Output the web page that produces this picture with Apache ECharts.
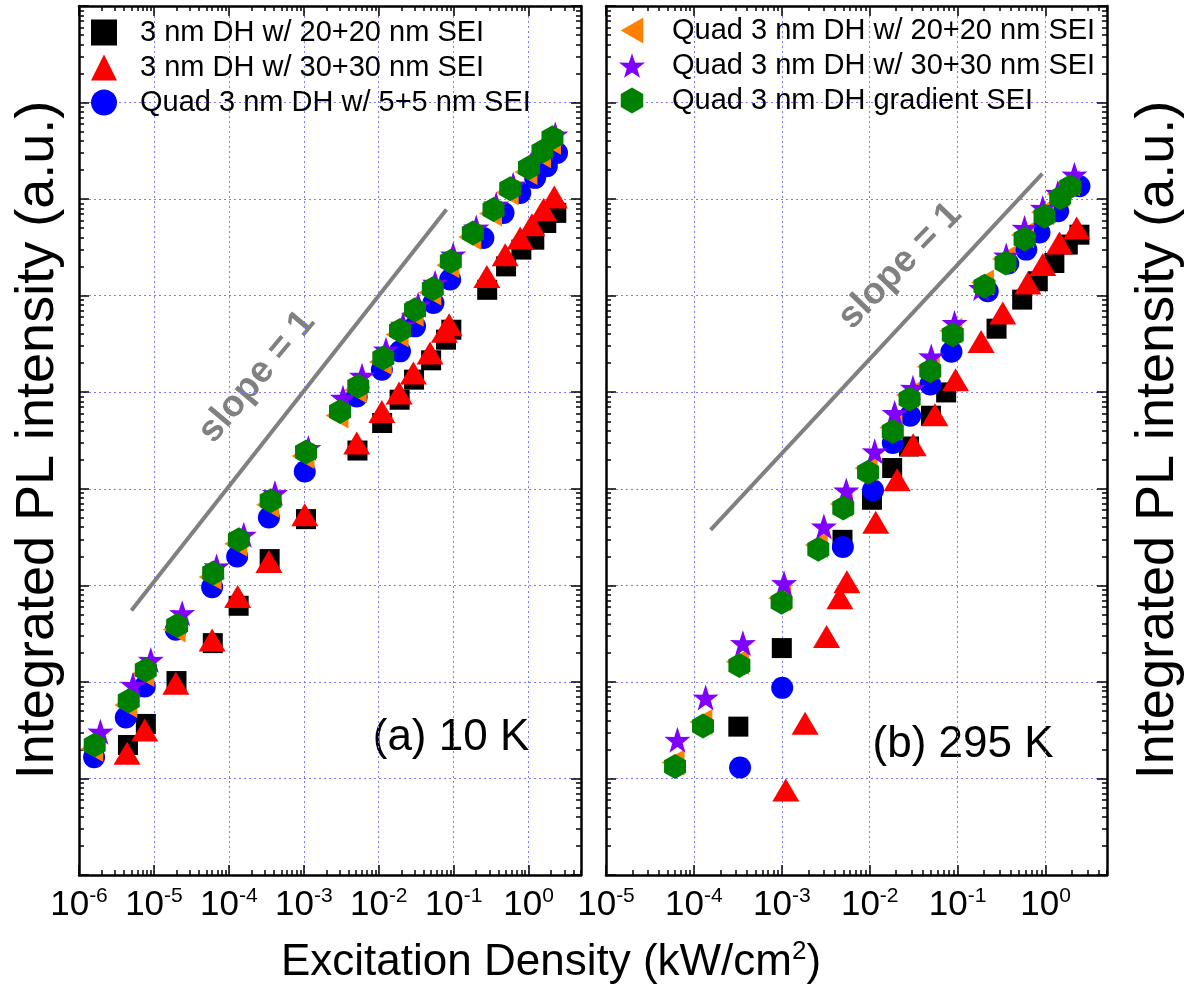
<!DOCTYPE html>
<html><head><meta charset="utf-8">
<script src="https://cdn.jsdelivr.net/npm/echarts@6/dist/echarts.min.js"></script>
<style>html,body{margin:0;padding:0;background:#fff}#c{width:1188px;height:990px}</style>
</head><body><div id="c"></div>
<script>
// ---------------- DATA ----------------
const seriesNames = [
  '3 nm DH w/ 20+20 nm SEI',
  '3 nm DH w/ 30+30 nm SEI',
  'Quad 3 nm DH w/ 5+5 nm SEI',
  'Quad 3 nm DH w/ 20+20 nm SEI',
  'Quad 3 nm DH w/ 30+30 nm SEI',
  'Quad 3 nm DH gradient SEI'
];
// x tick labels (decades)
const aTickValues = [1e-6, 1e-5, 1e-4, 1e-3, 1e-2, 1e-1, 1];
const bTickValues = [1e-5, 1e-4, 1e-3, 1e-2, 1e-1, 1];
const yTickValues = [1, 1e1, 1e2, 1e3, 1e4, 1e5, 1e6, 1e7, 1e8, 1e9];

// Panel (a) 10 K
const a_s1_x = [4.5e-6, 7.8e-6, 2.0e-5, 6.1e-5, 1.35e-4, 3.5e-4, 1.07e-3, 5.2e-3, 1.11e-2, 1.9e-2, 2.96e-2, 5.0e-2, 7.9e-2, 9.3e-2, 0.28, 0.50, 0.80, 1.19, 1.72, 2.34];
const a_s1_y = [22.2, 36.7, 102, 252, 614, 1870, 4850, 24900, 48000, 83600, 1.35e5, 2.14e5, 3.5e5, 4.44e5, 1.15e6, 2.01e6, 3.0e6, 3.8e6, 5.66e6, 7.2e6];
const a_s2_x = [4.38e-6, 7.55e-6, 1.96e-5, 5.98e-5, 1.31e-4, 3.42e-4, 1.03e-3, 5.08e-3, 1.10e-2, 1.87e-2, 2.9e-2, 4.84e-2, 7.52e-2, 8.69e-2, 0.277, 0.487, 0.772, 1.107, 1.58, 2.20];
const a_s2_y = [18.2, 31.8, 97, 272, 765, 1765, 5380, 29800, 63200, 98100, 1.58e5, 2.55e5, 4.27e5, 5.0e5, 1.58e6, 2.66e6, 3.96e6, 5.44e6, 7.8e6, 1.05e7];
const a_s3_x = [1.59e-6, 4.21e-6, 7.55e-6, 1.96e-5, 5.98e-5, 1.29e-4, 3.42e-4, 1.03e-3, 5.08e-3, 1.10e-2, 1.92e-2, 3.05e-2, 5.37e-2, 8.97e-2, 0.249, 0.462, 0.772, 1.22, 1.75, 2.39];
const a_s3_y = [16.6, 42.7, 89.4, 346, 958, 1990, 5040, 15100, 90400, 1.71e5, 2.65e5, 4.81e5, 8.4e5, 1.47e6, 3.96e6, 7.2e6, 1.16e7, 1.66e7, 2.19e7, 3.01e7];
const a_s4_x = [1.48e-6, 4.21e-6, 7.10e-6, 1.86e-5, 5.62e-5, 1.24e-4, 3.29e-4, 9.75e-4, 2.77e-3, 4.86e-3, 1.05e-2, 1.76e-2, 2.79e-2, 4.80e-2, 8.36e-2, 0.164, 0.310, 0.518, 0.920, 1.40, 1.90];
const a_s4_y = [20.2, 57.8, 121, 348, 1217, 2690, 6830, 21800, 57500, 1.05e5, 2.06e5, 3.97e5, 6.51e5, 1.08e6, 2.06e6, 4.06e6, 7.08e6, 1.17e7, 1.91e7, 2.84e7, 3.92e7];
const a_s5_x = [1.93e-6, 5.26e-6, 9.08e-6, 2.38e-5, 6.85e-5, 1.58e-4, 4.12e-4, 1.15e-3, 3.33e-3, 5.98e-3, 1.25e-2, 2.11e-2, 3.35e-2, 5.65e-2, 9.84e-2, 0.200, 0.369, 0.622, 1.08, 1.67, 2.27];
const a_s5_y = [30.5, 93, 169, 515, 1570, 3340, 9020, 26400, 87700, 1.48e5, 2.76e5, 5.0e5, 8.07e5, 1.36e6, 2.66e6, 5.07e6, 8.77e6, 1.41e7, 2.28e7, 3.42e7, 4.66e7];
const a_s6_x = [1.62e-6, 4.61e-6, 7.78e-6, 2.04e-5, 6.17e-5, 1.36e-4, 3.61e-4, 1.07e-3, 3.04e-3, 5.33e-3, 1.15e-2, 1.92e-2, 3.05e-2, 5.27e-2, 9.16e-2, 0.180, 0.340, 0.568, 1.01, 1.53, 2.08];
const a_s6_y = [22.2, 63.6, 133, 383, 1340, 2960, 7510, 24000, 63200, 1.15e5, 2.26e5, 4.37e5, 7.16e5, 1.18e6, 2.27e6, 4.47e6, 7.8e6, 1.28e7, 2.11e7, 3.13e7, 4.31e7];
const a_slope_x = [5e-6, 8e-2];
const a_slope_y = [550, 7.8e6];

// Panel (b) 295 K
const b_s1_x = [3.2e-4, 1.0e-3, 4.9e-3, 1.06e-2, 1.8e-2, 2.8e-2, 4.97e-2, 7.4e-2, 0.277, 0.542, 0.816, 1.26, 1.79, 2.43];
const b_s1_y = [34.4, 224, 2960, 7690, 16400, 27400, 57100, 99500, 4.55e5, 9.1e5, 1.41e6, 2.18e6, 3.38e6, 4.28e6];
const b_s2_x = [1.11e-3, 1.84e-3, 3.23e-3, 4.58e-3, 5.5e-3, 1.17e-2, 2.05e-2, 3.12e-2, 5.52e-2, 9.46e-2, 0.185, 0.326, 0.629, 0.93, 1.44, 2.26];
const b_s2_y = [7.6, 37.3, 295, 742, 1088, 4500, 12400, 28600, 58500, 1.35e5, 3.36e5, 6.62e5, 1.35e6, 2.1e6, 3.51e6, 5.03e6];
const b_s3_x = [3.35e-4, 1.01e-3, 4.95e-3, 1.09e-2, 1.83e-2, 2.88e-2, 4.88e-2, 8.5e-2, 0.22, 0.376, 0.603, 0.853, 1.39, 2.43];
const b_s3_y = [13.0, 86.7, 2490, 9650, 29800, 57100, 1.2e5, 2.63e5, 1.11e6, 2.15e6, 3.0e6, 4.5e6, 7.48e6, 1.36e7];
const b_s4_x = [5.78e-5, 1.20e-4, 3.12e-4, 9.44e-4, 2.47e-3, 4.74e-3, 9.1e-3, 1.74e-2, 2.69e-2, 4.63e-2, 8.38e-2, 0.192, 0.333, 0.547, 0.923, 1.39, 1.81];
const b_s4_y = [14.6, 38.5, 162, 737, 2610, 6940, 16300, 43200, 93500, 1.84e5, 4.34e5, 1.37e6, 2.40e6, 4.26e6, 7.30e6, 1.13e7, 1.47e7];
const b_s5_x = [6.5e-5, 1.36e-4, 3.61e-4, 1.06e-3, 3.01e-3, 5.41e-3, 1.14e-2, 1.92e-2, 3.1e-2, 5.01e-2, 9.22e-2, 0.185, 0.357, 0.577, 0.93, 1.38, 2.13];
const b_s5_y = [25.1, 68.8, 252, 1054, 4066, 9600, 24400, 60900, 1.11e5, 2.35e5, 5.21e5, 1.2e6, 2.6e6, 5.03e6, 8.11e6, 1.16e7, 1.79e7];
const b_s6_x = [6.10e-5, 1.27e-4, 3.29e-4, 9.95e-4, 2.60e-3, 5.00e-3, 9.57e-3, 1.83e-2, 2.84e-2, 4.88e-2, 8.81e-2, 0.202, 0.351, 0.577, 0.973, 1.47, 1.91];
const b_s6_y = [13.3, 35.0, 148, 670, 2370, 6310, 14800, 39300, 85100, 1.67e5, 3.94e5, 1.25e6, 2.18e6, 3.87e6, 6.64e6, 1.03e7, 1.34e7];
const b_slope_x = [1.55e-4, 0.92];
const b_slope_y = [3760, 1.84e7];

// ---------------- STYLE ----------------
const FONT = '"Liberation Sans", Arial, Helvetica, sans-serif';
const colors = ['#000000', '#ff0000', '#0000ff', '#ff8000', '#8000ff', '#008000'];
const symbols = [
  'rect',
  'triangle',
  'circle',
  'path://M0,50 L86.6,0 L86.6,100 Z',
  'path://M50,0 L61.8,35.1 L97.6,34.5 L69,56.7 L79.4,90.5 L50,70.5 L20.6,90.5 L31,56.7 L2.4,34.5 L38.2,35.1 Z',
  'path://M50,0 L93.3,25 L93.3,75 L50,100 L6.7,75 L6.7,25 Z'
];
const sizes = [20, [27, 23], 22, [23, 26], 26, [22, 25]];

function minorList(e0, e1, max) {
  const r = [];
  for (let e = e0; e <= e1; e++) for (let k = 2; k <= 9; k++) {
    const v = Number(k + 'e' + e);
    if (v <= max) r.push(v);
  }
  return r;
}
const aMinor = minorList(-6, 0, 5);
const bMinor = minorList(-5, 0, 5);
const yMinor = minorList(0, 8, 1e9);

const richLbl = {
  b: {fontSize: 35, fontFamily: FONT, color: '#000', lineHeight: 38},
  s: {fontSize: 21, fontFamily: FONT, color: '#000', lineHeight: 22, verticalAlign: 'top'}
};
const grid = {color: '#7b7bff', width: 1, type: [2, 3]};

function xAx(g, pos, min, max, major, minor, isMinor, showLabel) {
  return {
    type: 'log', logBase: 10, gridIndex: g, position: pos, min: min, max: max,
    axisLine: {show: !isMinor, onZero: false, lineStyle: {color: '#000', width: 2.5}},
    axisTick: {show: true, inside: true, length: isMinor ? 5 : 10,
      customValues: isMinor ? minor : major, lineStyle: {color: '#000', width: 1.5}},
    minorTick: {show: false},
    axisLabel: {show: showLabel, customValues: major, margin: 11,
      formatter: v => '{b|10}{s|' + Math.round(Math.log10(v)) + '}', rich: richLbl},
    splitLine: {show: !isMinor && pos === 'bottom', lineStyle: grid},
    axisPointer: {show: false}
  };
}
function yAx(g, pos, isMinor) {
  return {
    type: 'log', logBase: 10, gridIndex: g, position: pos, min: 1, max: 1e9,
    axisLine: {show: !isMinor, onZero: false, lineStyle: {color: '#000', width: 2.5}},
    axisTick: {show: true, inside: true, length: isMinor ? 5 : 10,
      customValues: isMinor ? yMinor : yTickValues, lineStyle: {color: '#000', width: 1.5}},
    minorTick: {show: false},
    axisLabel: {show: false},
    splitLine: {show: !isMinor && pos === 'left', lineStyle: grid},
    axisPointer: {show: false}
  };
}

const xAxes = [
  xAx(0, 'bottom', 1e-6, 5, aTickValues, aMinor, false, true),
  xAx(0, 'bottom', 1e-6, 5, aTickValues, aMinor, true, false),
  xAx(0, 'top', 1e-6, 5, aTickValues, aMinor, false, false),
  xAx(0, 'top', 1e-6, 5, aTickValues, aMinor, true, false),
  xAx(1, 'bottom', 1e-5, 5, bTickValues, bMinor, false, true),
  xAx(1, 'bottom', 1e-5, 5, bTickValues, bMinor, true, false),
  xAx(1, 'top', 1e-5, 5, bTickValues, bMinor, false, false),
  xAx(1, 'top', 1e-5, 5, bTickValues, bMinor, true, false)
];
const yAxes = [
  yAx(0, 'left', false), yAx(0, 'left', true), yAx(0, 'right', false), yAx(0, 'right', true),
  yAx(1, 'left', false), yAx(1, 'left', true), yAx(1, 'right', false), yAx(1, 'right', true)
];

function zip(xs, ys) { return xs.map((x, i) => [x, ys[i]]); }
function sc(i, xs, ys, axi) {
  return {
    type: 'scatter', name: seriesNames[i], xAxisIndex: axi, yAxisIndex: axi,
    data: zip(xs, ys), symbol: symbols[i], symbolSize: sizes[i],
    itemStyle: {color: colors[i], opacity: 1}, z: 3 + i, silent: true,
    emphasis: {disabled: true}
  };
}
function slope(xs, ys, axi) {
  return {
    type: 'line', xAxisIndex: axi, yAxisIndex: axi, data: zip(xs, ys),
    symbol: 'none', lineStyle: {color: '#808080', width: 4}, z: 2, silent: true
  };
}

const series = [
  sc(0, a_s1_x, a_s1_y, 0), sc(1, a_s2_x, a_s2_y, 0), sc(2, a_s3_x, a_s3_y, 0),
  sc(3, a_s4_x, a_s4_y, 0), sc(4, a_s5_x, a_s5_y, 0), sc(5, a_s6_x, a_s6_y, 0),
  sc(0, b_s1_x, b_s1_y, 4), sc(1, b_s2_x, b_s2_y, 4), sc(2, b_s3_x, b_s3_y, 4),
  sc(3, b_s4_x, b_s4_y, 4), sc(4, b_s5_x, b_s5_y, 4), sc(5, b_s6_x, b_s6_y, 4),
  slope(a_slope_x, a_slope_y, 0), slope(b_slope_x, b_slope_y, 4)
];

const legendBase = {
  orient: 'vertical', itemWidth: 26, itemHeight: 26, itemGap: 6, selectedMode: false,
  textStyle: {fontSize: 29, fontFamily: FONT, color: '#000'}
};

const bigText = (x, y, text, rot, extra) => ({
  type: 'text', x: x, y: y, rotation: rot || 0, silent: true,
  style: Object.assign({text: text, fontSize: 44, fontFamily: FONT, fill: '#000',
    align: 'center', verticalAlign: 'middle'}, extra || {})
});

const option = {
  animation: false,
  backgroundColor: '#ffffff',
  grid: [
    {left: 79, top: 6, width: 502, height: 869},
    {left: 606, top: 6, width: 501, height: 869}
  ],
  xAxis: xAxes,
  yAxis: yAxes,
  legend: [
    Object.assign({}, legendBase, {left: 86, top: 13, data: seriesNames.slice(0, 3),
      textStyle: Object.assign({}, legendBase.textStyle, {padding: [0, 0, 0, 18]})}),
    Object.assign({}, legendBase, {left: 614, top: 11, data: seriesNames.slice(3, 6),
      textStyle: Object.assign({}, legendBase.textStyle, {padding: [0, 0, 0, 22]})})
  ],
  series: series,
  graphic: [
    bigText(38, 440, 'Integrated PL intensity (a.u.)', Math.PI / 2, {fontSize: 54}),
    bigText(1158, 440, 'Integrated PL intensity (a.u.)', Math.PI / 2, {fontSize: 54}),
    {
      type: 'text', x: 551, y: 963, silent: true,
      style: {text: '{a|Excitation Density (kW/cm}{s|2}{a|)}', align: 'center', verticalAlign: 'middle',
        rich: {
          a: {fontSize: 44, fontFamily: FONT, fill: '#000', lineHeight: 48},
          s: {fontSize: 26, fontFamily: FONT, fill: '#000', lineHeight: 26, verticalAlign: 'top'}
        }}
    },
    bigText(451, 738, '(a) 10 K', 0),
    bigText(963, 745, '(b) 295 K', 0),
    bigText(257, 377, 'slope = 1', 50 * Math.PI / 180, {fontSize: 37, fontWeight: 'bold', fill: '#808080'}),
    bigText(900, 266, 'slope = 1', 46 * Math.PI / 180, {fontSize: 37, fontWeight: 'bold', fill: '#808080'})
  ]
};

const chart = echarts.init(document.getElementById('c'), null, {renderer: 'canvas'});
chart.setOption(option);
</script>
</body></html>
